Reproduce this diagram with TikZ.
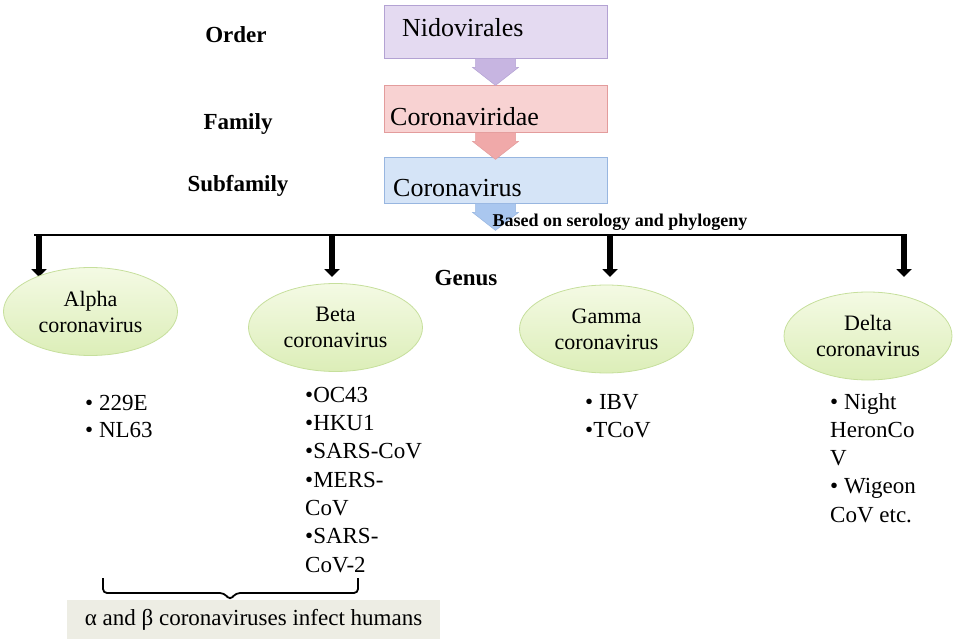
\documentclass[tikz,border=0pt]{standalone}
\usepackage{fontspec}
\setmainfont{Liberation Serif}
\usetikzlibrary{shapes.geometric,arrows.meta}
\definecolor{nidofill}{HTML}{E4DAF1}
\definecolor{nidoline}{HTML}{B3A2D3}
\definecolor{nidoarrow}{HTML}{C7B5E1}
\definecolor{famfill}{HTML}{F8D2D2}
\definecolor{famline}{HTML}{E39C9C}
\definecolor{famarrow}{HTML}{F0A9A9}
\definecolor{subfill}{HTML}{D5E4F7}
\definecolor{subline}{HTML}{98B6E0}
\definecolor{subarrow}{HTML}{AAC7EF}
\definecolor{genustop}{HTML}{F4FAE4}
\definecolor{genusbot}{HTML}{DCEEB8}
\definecolor{genusline}{HTML}{C6DF9C}
\definecolor{humfill}{HTML}{EDEDE4}
\begin{document}
\begin{tikzpicture}[x=1pt, y=-1pt,
  rankbox/.style={rectangle, minimum width=223pt, inner sep=0pt, line width=0.8pt},
  boxtext/.style={anchor=base west, inner sep=0pt, font=\fontsize{26}{30}\selectfont},
  ranklabel/.style={anchor=base, inner sep=0pt, font=\fontsize{23}{27}\selectfont\bfseries},
  genus/.style={ellipse, minimum width=174pt, minimum height=88pt, inner sep=0pt,
    align=center, draw=genusline, line width=0.8pt, top color=genustop,
    bottom color=genusbot, font=\fontsize{22}{26}\selectfont},
  listtext/.style={anchor=base west, inner sep=0pt, font=\fontsize{23}{28}\selectfont},
  droparrow/.style={line width=5.5pt, -{Triangle[width=15pt,length=8pt]}},
  bus/.style={line width=2.5pt},
  bracket/.style={line width=1.8pt, rounded corners=4pt}]
\useasboundingbox (0,0) rectangle (953,639);

% Rank boxes
\node[rankbox, minimum height=53pt, fill=nidofill, draw=nidoline] (nido) at (495.5,31.5) {};
\node[rankbox, minimum height=47pt, fill=famfill, draw=famline] (corvir) at (495.5,108.5) {};
\node[rankbox, minimum height=46pt, fill=subfill, draw=subline] (corvirus) at (495.5,180) {};

% Block arrows under the boxes
\foreach \b/\c/\l in {nido/nidoarrow/nidoline, corvir/famarrow/famline, corvirus/subarrow/subline} {
  \draw[fill=\c, draw=\l, line width=0.5pt] (\b.south) ++(-20,0) -- ++(0,9) -- ++(-3,0)
    -- ++(23,18) -- ++(23,-18) -- ++(-3,0) -- ++(0,-9) -- cycle;
}

% Box texts
\node[boxtext] (nidotext) at (402,37) {Nidovirales};
\node[boxtext] (corvirtext) at (390,126) {Coronaviridae};
\node[boxtext] (corvirustext) at (393,197) {Coronavirus};

% Rank labels
\node[ranklabel] (order) at (236,43) {Order};
\node[ranklabel] (family) at (238,130) {Family};
\node[ranklabel] (subfamily) at (238,192) {Subfamily};
\node[ranklabel] (genuslabel) at (466,285) {Genus};
\node[anchor=base, inner sep=0pt, font=\fontsize{18}{22}\selectfont\bfseries] (basis) at (620,226) {Based on serology and phylogeny};

% Split line and drops
\coordinate (busL) at (34,235);
\coordinate (busR) at (907,235);
\draw[bus] (busL) -- (busR);
\foreach \x/\n in {39/a, 332/b, 610/g, 904/d} {
  \coordinate (top\n) at (\x,235);
  \coordinate (end\n) at (\x,277);
  \draw[droparrow] (top\n) -- (end\n);
}

% Genus ellipses
\node[genus] (alpha) at (90.5,311.5) {Alpha\\coronavirus};
\node[genus] (beta) at (335.5,327.5) {Beta\\coronavirus};
\node[genus] (gamma) at (606.5,329) {Gamma\\coronavirus};
\node[genus, minimum width=168pt] (delta) at (868,336) {Delta\\coronavirus};

% Member lists
\foreach \x/\y/\t [count=\i] in {
  85/410/• 229E, 85/437/• NL63,
  305/402/•OC43, 305/430/•HKU1, 305/458/•SARS-CoV, 305/487/•MERS-,
  305/515/CoV, 305/543/•SARS-, 305/572/CoV-2,
  585/409/• IBV, 585/437/•TCoV,
  830/409/• Night, 830/437/HeronCo, 830/465/V, 830/493/• Wigeon, 830/522/CoV etc.
} {
  \node[listtext] (item\i) at (\x,\y) {\t};
}

% Human-infecting note
\draw[bracket] (103,578) -- (103,593) -- (224,593) -- (230,600) -- (236,593) -- (358,593) -- (358,578);
\node[rectangle, fill=humfill, minimum width=373pt, minimum height=39pt, inner sep=0pt,
  font=\fontsize{23}{27}\selectfont] (human) at (253.5,619.5) {α and β coronaviruses infect humans};
\end{tikzpicture}
\end{document}
